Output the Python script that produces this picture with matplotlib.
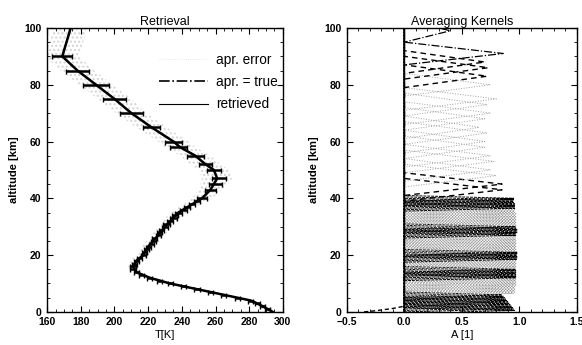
import numpy as np
import matplotlib
matplotlib.use('Agg')
import matplotlib.pyplot as plt
from matplotlib.lines import Line2D
from matplotlib.ticker import MultipleLocator

plt.rcParams['font.family'] = ['Liberation Sans', 'DejaVu Sans']

# retrieved temperature profile (altitude km, T K)
alt = [0, 2, 4, 6, 8, 10, 12, 14, 16, 18, 20, 22, 23, 25, 27, 30, 35, 40, 43, 45,
       47, 50, 52, 55, 58, 60, 65, 70, 75, 80, 85, 90, 100]
temp = [294, 288, 281, 265, 249, 233, 221, 213, 211, 213, 217, 219, 220, 223, 226, 230, 238, 252, 257, 259,
        261, 259, 254, 248, 239, 235, 222, 210, 200, 189, 178, 169, 174]
# a priori error (half width of stippled band, K)
apr_err = [3, 3, 3, 3, 3, 3, 3, 3, 3, 4, 4, 4, 4, 4, 4, 4, 5, 6, 7, 8,
           9, 9, 9, 9, 9, 9, 9, 9, 10, 10, 10, 10, 10]

# error bars of the retrieval
eb_alt = [90, 85, 80, 75, 70, 65, 60, 58, 55, 52, 50, 47, 45, 43, 40,
          39, 38, 37, 36, 35, 34, 33, 32, 31, 30, 29, 28, 27, 26, 25, 24, 23, 22, 21, 20,
          19, 18, 17, 16, 15, 14, 13, 12, 11, 10, 9, 8, 7, 6, 5, 4, 3, 2, 1]
eb_temp = [169, 178, 189, 200, 210, 222, 235, 238, 248, 254, 259, 262, 260, 257, 252,
           249, 246, 243, 241, 238, 236, 235, 233, 231, 230, 228, 227, 226, 224, 223, 222, 220, 219, 218, 217,
           215, 213, 212, 211, 211, 213, 216, 221, 227, 233, 241, 249, 257, 265, 273, 281, 285, 288, 291]
eb_err = [6, 7, 7.5, 7, 7, 5, 5, 5, 5, 4, 4, 4, 4, 3, 3,
          2, 2, 2, 2, 2, 2, 2, 2, 2, 2, 1.5, 1.5, 1.5, 1.5, 1.5, 1.5, 1.5, 1.5, 1.5, 1.5,
          1.5, 1.5, 1.5, 1.5, 1.5, 1.5, 1.5, 1.5, 1.5, 1.5, 1.5, 1.5, 1.5, 1.5, 1.5, 1.5, 1.5, 1.5, 1.5]

# averaging kernels: peak altitude and peak value
ak_alt_high = [43, 45, 48, 50, 53, 55, 58, 60, 63, 65, 68, 70, 73, 75, 80, 83, 86, 88, 91, 99]
ak_peak_high = [0.85, 0.85, 0.8, 0.75, 0.78, 0.75, 0.7, 0.7, 0.72, 0.65, 0.7, 0.75, 0.72, 0.8,
                0.75, 0.72, 0.73, 0.7, 0.86, 0.4]
ak_alt_low = [0.5, 1, 1.5, 2, 2.5, 3, 3.5, 4, 4.5, 5, 5.5, 6, 6.5, 7, 7.5, 8, 8.5, 9, 9.5, 10,
              10.5, 11, 11.5, 12, 12.5, 13, 13.5, 14, 14.5, 15, 15.5, 16, 16.5, 17, 17.5, 18, 18.5, 19,
              19.5, 20, 20.5, 21, 21.5, 22, 22.5, 23, 23.5, 24, 24.5, 25, 25.5, 26, 26.5, 27, 27.5, 28,
              28.5, 29, 29.5, 30, 30.5, 31, 31.5, 32, 32.5, 33, 33.5, 34, 34.5, 35, 35.5, 36, 36.5, 37,
              37.5, 38, 38.5, 39, 39.5, 40]
ak_peak_low = [0.96, 0.95, 0.94, 0.93, 0.92, 0.91, 0.9, 0.89, 0.88, 0.87, 0.86, 0.85, 0.95, 0.96, 0.96, 0.96,
               0.96, 0.96, 0.97, 0.97, 0.97, 0.97, 0.97, 0.97, 0.97, 0.97, 0.97, 0.97, 0.97, 0.97, 0.97, 0.97,
               0.97, 0.97, 0.97, 0.97, 0.98, 0.98, 0.98, 0.98, 0.98, 0.98, 0.97, 0.97, 0.97, 0.97, 0.97, 0.97,
               0.97, 0.97, 0.97, 0.97, 0.97, 0.97, 0.97, 0.98, 0.98, 0.98, 0.97, 0.97, 0.97, 0.97, 0.97, 0.97,
               0.97, 0.97, 0.97, 0.97, 0.97, 0.96, 0.96, 0.96, 0.96, 0.96, 0.96, 0.96, 0.95, 0.95, 0.95, 0.95]
dark_bands = [(0, 6), (12, 15), (18.5, 21), (27, 30), (36.5, 40)]
# negative side lobe near the ground
lobe_x = [-0.35, -0.25, -0.1, 0.0]
lobe_z = [0, 0.4, 1.2, 2]

z_grid = np.arange(0, 100.01, 0.25)

fig = plt.figure(figsize=(5.82, 3.45), dpi=100)
ax1 = fig.add_axes([0.081, 0.096, 0.405, 0.823])
ax2 = fig.add_axes([0.596, 0.096, 0.395, 0.823])

# ---- left panel ----
t = np.array(temp)
e = np.array(apr_err)
ax1.fill_betweenx(alt, t - e, t + e, facecolor='none', edgecolor='#d4d4d4', hatch='....', linewidth=0)
ax1.plot(temp, alt, color='black', lw=1.0, ls='-.')
ax1.plot(temp, alt, color='black', lw=1.8)
ax1.errorbar(eb_temp, eb_alt, xerr=eb_err, fmt='none', ecolor='black', elinewidth=1.8, capsize=1.8, capthick=1)
ax1.set_xlim(160, 300)
ax1.set_ylim(0, 100)
ax1.set_title('Retrieval', fontsize=9, pad=2)
ax1.set_xlabel('T[K]', fontsize=8, labelpad=2)
ax1.set_ylabel('altitude [km]', fontsize=8, fontweight='bold')
handles = [Line2D([], [], color='#e0e0e0', ls=':', lw=0.6),
           Line2D([], [], color='black', ls='-.', lw=1.2),
           Line2D([], [], color='black', ls='-', lw=0.8)]
ax1.legend(handles, ['apr. error', 'apr. = true', 'retrieved'], loc='upper right', frameon=False,
           fontsize=9.8, handlelength=3.6, handletextpad=0.6, bbox_to_anchor=(1.03, 0.955), labelspacing=0.6)

# ---- right panel ----
for z0, p in zip(ak_alt_high, ak_peak_high):
    a = np.interp(z_grid, [z0 - 4, z0, z0 + 4], [0, p, 0], left=0, right=0)
    if z0 in (43, 45, 83, 86, 88):
        ax2.plot(a, z_grid, color='black', ls=(0, (4, 3)), lw=1.0)
    elif z0 in (91, 99):
        ax2.plot(a, z_grid, color='black', ls='-.', lw=0.9)
    else:
        ax2.plot(a, z_grid, color='#a0a0a0', ls=':', lw=0.7)
for z0, p in zip(ak_alt_low, ak_peak_low):
    a = np.interp(z_grid, [z0 - 1, z0, z0 + 1], [0, p, 0], left=0, right=0)
    dark = any(lo <= z0 <= hi for lo, hi in dark_bands)
    if dark:
        ax2.plot(a, z_grid, color='black', ls=(0, (3, 1)), lw=0.7)
    else:
        ax2.plot(a, z_grid, color='#989898', ls=':', lw=0.8)
ax2.axvline(0, color='black', lw=1.0)
ax2.plot(lobe_x, lobe_z, color='black', lw=1.0, ls=(0, (3, 2)))
ax2.set_xlim(-0.5, 1.5)
ax2.set_ylim(0, 100)
ax2.set_title('Averaging Kernels', fontsize=9, pad=2)
ax2.set_xlabel('A [1]', fontsize=8, labelpad=2)
ax2.set_ylabel('altitude [km]', fontsize=8, fontweight='bold')

for ax, xmaj, xmin in ((ax1, 20, 5), (ax2, 0.5, 0.1)):
    ax.xaxis.set_major_locator(MultipleLocator(xmaj))
    ax.xaxis.set_minor_locator(MultipleLocator(xmin))
    ax.yaxis.set_major_locator(MultipleLocator(20))
    ax.yaxis.set_minor_locator(MultipleLocator(5))
    ax.tick_params(which='both', direction='in', top=True, right=True, labelsize=7.5, pad=4)
    ax.tick_params(which='major', length=4)
    ax.tick_params(which='minor', length=2)
    for lbl in ax.get_xticklabels() + ax.get_yticklabels():
        lbl.set_fontweight('bold')
    for s in ax.spines.values():
        s.set_linewidth(1.0)

fig.savefig('out.png', dpi=100)
